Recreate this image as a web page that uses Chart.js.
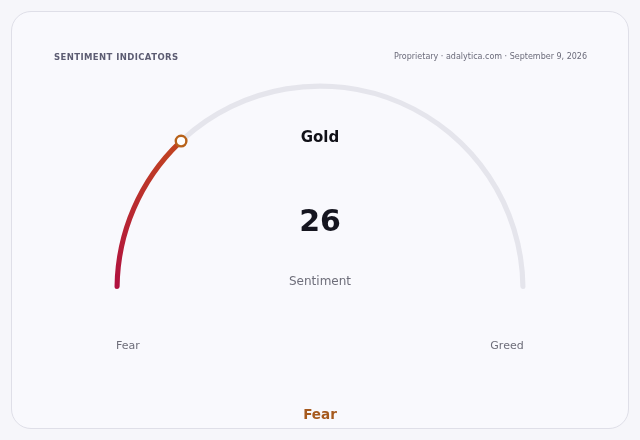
<!DOCTYPE html>
<html>
<head>
<meta charset="utf-8">
<script src="https://cdn.jsdelivr.net/npm/chart.js@4"></script>
<style>
  html, body { margin: 0; padding: 0; background: #f6f6fa; width: 640px; height: 440px; overflow: hidden; font-family: "DejaVu Sans", sans-serif; }
  .card { position: absolute; left: 11px; top: 11px; width: 616px; height: 416px; border: 1px solid #dfdfe8; border-radius: 20px; background: #f9f9fd; }
  #gauge { position: absolute; left: 0; top: 0; }
  .t { position: absolute; white-space: nowrap; }
  .title { left: 54px; top: 52px; font-size: 8.5px; font-weight: bold; letter-spacing: 0.4px; color: #5c5c72; }
  .source { right: 53px; top: 52px; font-size: 8px; color: #6b6b7a; }
  .center { left: 220px; width: 200px; text-align: center; }
  .name { top: 128px; font-size: 15px; font-weight: bold; color: #111118; }
  .value { top: 203px; font-size: 30px; font-weight: bold; color: #15151f; }
  .label { top: 274px; font-size: 12px; color: #6e6e7a; }
  .end { top: 339px; width: 80px; text-align: center; font-size: 11px; color: #6e6e7a; }
  .zone { top: 406px; font-size: 13.5px; font-weight: bold; color: #a65a1e; }
</style>
</head>
<body>
<div class="card"></div>
<canvas id="gauge" width="640" height="440"></canvas>
<div class="t title">SENTIMENT INDICATORS</div>
<div class="t source">Proprietary · adalytica.com · September 9, 2026</div>
<div class="t center name" id="name"></div>
<div class="t center value" id="value"></div>
<div class="t center label">Sentiment</div>
<div class="t end" id="lowLabel" style="left:88px"></div>
<div class="t end" id="highLabel" style="left:467px"></div>
<div class="t center zone" id="zone"></div>
<script>
// gauge data
const asset = 'Gold';
const score = 26;
const scaleMax = 100;
const endLabels = ['Fear', 'Greed'];
const zoneLabel = 'Fear';

document.getElementById('name').textContent = asset;
document.getElementById('value').textContent = score;
document.getElementById('lowLabel').textContent = endLabels[0];
document.getElementById('highLabel').textContent = endLabels[1];
document.getElementById('zone').textContent = zoneLabel;

// small circle at the end of the filled part of the arc
const markerPlugin = {
  id: 'marker',
  afterDatasetsDraw(chart) {
    const arc = chart.getDatasetMeta(0).data[0];
    const r = (arc.innerRadius + arc.outerRadius) / 2;
    const x = arc.x + r * Math.cos(arc.endAngle);
    const y = arc.y + r * Math.sin(arc.endAngle);
    const ctx = chart.ctx;
    ctx.save();
    ctx.beginPath();
    ctx.arc(x, y, 5.3, 0, Math.PI * 2);
    ctx.fillStyle = '#ffffff';
    ctx.fill();
    ctx.lineWidth = 2.4;
    ctx.strokeStyle = '#b8621a';
    ctx.stroke();
    ctx.restore();
  }
};

let ctx = document.getElementById('gauge');
let gaugeChart = new Chart(ctx, {
  type: 'doughnut',
  data: {
    labels: ['score', 'rest'],
    datasets: [{
      data: [score, scaleMax - score],
      backgroundColor: function(c) {
        if (c.dataIndex === 1) return '#e5e5ec';
        const area = c.chart.chartArea;
        if (!area) return '#b5173c';
        const g = c.chart.ctx.createLinearGradient(area.left, area.bottom, area.left + 70, area.top + 55);
        g.addColorStop(0, '#b01040');
        g.addColorStop(1, '#c2461f');
        return g;
      },
      borderWidth: 0,
      borderRadius: 2.5
    }]
  },
  options: {
    responsive: false,
    animation: false,
    rotation: -90,
    circumference: 180,
    cutout: '97.5%',
    layout: { padding: { left: 114.5, right: 114.5, top: 83.5, bottom: 151 } },
    plugins: {
      legend: { display: false },
      tooltip: { enabled: false }
    }
  },
  plugins: [markerPlugin]
});
</script>
</body>
</html>
